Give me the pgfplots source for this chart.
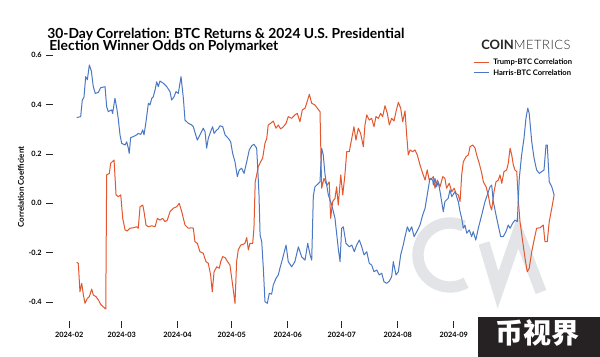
\documentclass[border=0pt]{standalone}
\usepackage{pgfplots}
\pgfplotsset{compat=1.18}
\usepackage{fontspec}
\setmainfont{Lato}
\newfontfamily\latolight{Lato Light}
\newfontfamily\cjk{Noto Sans CJK SC}
\definecolor{trumpred}{HTML}{E4572E}
\definecolor{harrisblue}{HTML}{4A78C2}
\definecolor{wm}{HTML}{E2E4E8}
\definecolor{boxbg}{HTML}{262223}

\pgfplotstableread{
d v
4.1 -0.239
5.0 -0.243
5.9 -0.358
6.9 -0.324
7.8 -0.371
8.7 -0.405
10.0 -0.385
11.1 -0.378
12.4 -0.347
13.3 -0.371
14.8 -0.378
16.1 -0.391
17.4 -0.409
18.8 -0.419
20.2 -0.428
20.7 0.115
22.2 0.121
22.9 0.162
24.8 0.175
25.9 0.034
27.1 0.027
28.5 0.034
29.6 -0.061
30.9 -0.108
32.1 -0.112
33.6 -0.101
35.5 -0.099
37.3 -0.095
38.2 -0.101
39.2 -0.014
40.7 -0.007
41.4 -0.034
42.5 -0.088
43.8 -0.095
45.7 -0.091
47.5 -0.095
48.8 -0.061
50.2 -0.068
51.7 -0.061
53.0 -0.074
54.3 -0.068
55.8 -0.034
57.6 -0.020
59.5 -0.014
60.9 0.0
62.3 -0.034
64.1 -0.088
65.9 -0.101
67.8 -0.099
68.7 -0.101
69.6 -0.155
70.9 -0.162
72.4 -0.196
74.2 -0.202
75.7 -0.236
77.0 -0.243
78.3 -0.29
79.2 -0.358
80.2 -0.277
81.7 -0.257
83.1 -0.263
83.9 -0.236
85.0 -0.216
86.3 -0.220
87.5 -0.234
89.0 -0.25
90.5 -0.331
91.8 -0.405
92.7 -0.236
93.6 -0.189
95.0 -0.169
96.4 -0.166
97.3 -0.162
98.3 -0.139
99.2 -0.189
100.1 -0.162
101.6 -0.162
102.3 -0.101
103.0 0.087
103.8 0.115
104.7 0.148
106.0 0.168
107.1 0.182
108.4 0.243
109.4 0.263
110.2 0.317
111.6 0.324
113.0 0.333
114.5 0.304
115.8 0.317
117.1 0.301
118.6 0.31
120.1 0.324
121.3 0.351
123.2 0.344
125.0 0.358
126.3 0.364
127.8 0.33
129.1 0.378
130.6 0.385
131.5 0.405
133.0 0.441
134.3 0.405
136.1 0.398
137.4 0.385
138.9 0.371
139.8 0.061
141.1 0.101
142.2 0.081
142.9 0.074
144.0 0.087
144.8 -0.061
145.9 0.007
147.2 0.020
148.1 0.067
149.0 -0.007
150.4 0.115
151.5 0.034
152.7 0.115
153.7 0.209
155.1 0.209
156.5 0.263
157.7 0.31
158.8 0.256
160.1 0.304
161.4 0.283
162.9 0.229
163.8 0.317
164.8 0.358
166.2 0.337
167.5 0.344
168.8 0.31
169.9 0.351
171.2 0.344
172.5 0.364
173.6 0.351
174.9 0.395
176.2 0.364
177.3 0.317
178.6 0.344
179.9 0.333
181.0 0.371
182.3 0.409
183.6 0.385
184.7 0.33
186.0 0.374
186.9 0.277
187.8 0.196
188.8 0.216
190.2 0.209
191.5 0.216
192.8 0.196
194.3 0.155
195.8 0.121
197.1 0.094
198.3 0.135
199.4 0.094
200.8 0.101
201.7 0.108
202.6 0.061
203.9 0.094
205.4 0.067
206.9 0.108
208.1 0.101
209.0 0.061
210.5 0.081
211.9 0.047
213.2 0.061
214.3 0.040
215.5 0.034
216.5 0.007
217.4 0.115
218.3 0.168
219.8 0.189
221.1 0.196
222.0 0.229
223.5 0.236
224.8 0.223
225.7 0.196
227.1 0.162
228.5 0.121
229.4 0.087
230.9 0.067
232.1 0.034
233.1 -0.007
234.0 -0.027
235.3 0.047
236.4 0.087
237.7 0.094
238.6 0.115
239.6 0.081
240.8 0.128
242.3 0.135
243.2 0.162
244.2 0.223
245.1 0.196
246.0 0.155
246.9 0.135
247.9 0.128
248.8 0.007
249.7 -0.074
251.2 -0.155
252.5 -0.223
253.7 -0.277
254.8 -0.263
256.2 -0.196
257.5 -0.149
258.9 -0.101
260.8 -0.099
262.6 -0.088
263.5 -0.155
264.8 -0.155
265.9 -0.074
267.3 -0.020
268.6 0.034
}\trump

\pgfplotstableread{
d v
4.1 0.347
6.3 0.351
7.2 0.418
8.1 0.428
9.1 0.513
10.0 0.5
11.1 0.56
12.2 0.536
13.3 0.472
14.4 0.445
16.1 0.449
17.4 0.468
19.8 0.472
20.7 0.391
21.6 0.371
23.5 0.378
24.0 0.364
25.3 0.425
26.3 0.385
27.1 0.344
28.1 0.277
29.0 0.243
30.9 0.236
31.8 0.249
32.7 0.223
33.2 0.202
34.0 0.266
35.5 0.27
37.3 0.277
38.2 0.283
39.6 0.279
40.7 0.297
41.4 0.277
42.5 0.33
43.8 0.405
44.7 0.398
45.7 0.425
46.5 0.431
47.5 0.458
48.4 0.492
49.3 0.472
50.2 0.495
52.1 0.486
54.0 0.472
55.8 0.452
56.7 0.418
58.0 0.431
59.1 0.452
60.4 0.445
61.9 0.513
63.2 0.425
64.1 0.337
65.9 0.324
67.8 0.317
68.7 0.31
70.9 0.256
72.4 0.277
74.2 0.304
75.2 0.29
76.1 0.223
77.0 0.263
78.3 0.29
79.4 0.31
80.2 0.283
81.7 0.297
82.5 0.301
83.5 0.314
85.0 0.31
86.3 0.277
88.1 0.263
89.4 0.249
90.5 0.202
91.8 0.168
93.1 0.108
94.2 0.135
95.5 0.142
96.8 0.121
98.3 0.168
99.7 0.216
101.1 0.233
102.3 0.239
103.8 0.223
104.4 0.142
105.1 0.034
105.7 -0.128
106.6 -0.155
107.5 -0.263
108.4 -0.398
109.7 -0.405
110.8 -0.364
112.1 -0.368
113.0 -0.331
114.5 -0.304
115.8 -0.29
116.7 -0.263
118.2 -0.223
120.1 -0.169
121.3 -0.236
123.2 -0.257
125.0 -0.236
126.9 -0.176
128.7 -0.216
130.6 -0.23
132.1 -0.162
133.4 -0.209
134.3 -0.23
135.2 0.03
136.1 0.067
137.1 0.074
138.9 0.087
139.8 0.223
140.7 0.196
141.7 0.115
143.5 0.034
145.4 -0.007
147.2 -0.061
149.0 -0.182
150.0 -0.236
150.9 -0.101
151.8 -0.095
153.3 -0.162
155.1 -0.176
156.5 -0.169
157.9 -0.196
159.2 -0.169
160.7 -0.149
162.0 -0.176
163.3 -0.209
164.8 -0.196
166.2 -0.243
167.5 -0.25
168.8 -0.277
170.3 -0.27
171.7 -0.29
173.1 -0.283
174.3 -0.317
175.8 -0.324
177.3 -0.315
178.6 -0.297
179.5 -0.236
181.0 -0.29
182.3 -0.277
183.6 -0.209
185.0 -0.169
186.0 -0.135
187.3 -0.095
188.4 -0.115
189.7 -0.095
191.0 -0.135
192.5 -0.115
194.3 -0.088
195.8 -0.047
197.1 -0.020
198.3 0.034
199.8 0.101
201.3 0.094
201.7 0.074
202.6 0.101
203.5 0.067
204.4 0.087
205.4 0.047
207.2 -0.034
208.1 0.007
209.9 0.02
210.9 0.054
211.9 0.027
213.7 0.047
215.5 0.007
216.5 -0.034
217.4 -0.061
218.3 -0.101
219.2 -0.088
220.2 -0.121
221.6 -0.108
222.9 -0.135
223.8 -0.115
225.2 -0.149
226.6 -0.101
228.5 -0.047
230.3 0.007
231.6 0.034
233.1 0.067
234.0 0.074
234.9 0.007
236.8 -0.061
239.0 -0.135
240.4 -0.135
241.9 -0.115
243.2 -0.088
244.2 -0.101
245.6 -0.081
246.9 -0.068
248.2 -0.074
249.3 0.101
250.6 0.196
251.9 0.263
253.0 0.344
254.0 0.385
254.8 0.364
256.2 0.249
257.5 0.182
258.9 0.135
260.4 0.121
261.7 0.128
263.0 0.135
264.1 0.236
264.8 0.236
265.9 0.087
267.3 0.067
268.6 0.034
}\harris

\begin{document}
\begin{tikzpicture}
\begin{scope}[x=0.75pt,y=-0.75pt]
\path[use as bounding box, fill=white] (0,0) rectangle (600,357);
\coordinate (P) at (53,321);
% watermark
\draw[wm, line width=8.5pt] (450,255) ++(-65:32) arc[start angle=-65, end angle=-300, radius=32];
\draw[wm, line width=8.5pt, line join=miter] (484,243) -- (498,290) -- (518,232) -- (541,292);
% title
\node[anchor=base west, inner sep=0pt, font=\bfseries\fontsize{10.4}{12}\selectfont] at (47,38) {30-Day Correlation: BTC Returns \& 2024 U.S. Presidential};
\node[anchor=base west, inner sep=0pt, font=\bfseries\fontsize{10.4}{12}\selectfont] at (49,50.5) {Election Winner Odds on Polymarket};
% logo
\node[anchor=base west, inner sep=0pt, font=\fontsize{9.7}{11}\selectfont, text=black!85] at (481,49.5) {\textbf{COIN}{\latolight\addfontfeatures{LetterSpace=4}METRICS}};
% legend
\draw[trumpred, line width=0.75pt] (474,62.3) -- (489,62.3);
\node[anchor=west, inner sep=0pt, font=\bfseries\fontsize{5.7}{6}\selectfont] at (493,62.3) {Trump-BTC Correlation};
\draw[harrisblue, line width=0.75pt] (474,72.3) -- (489,72.3);
\node[anchor=west, inner sep=0pt, font=\bfseries\fontsize{5.7}{6}\selectfont] at (493,72.3) {Harris-BTC Correlation};
% y label
\node[rotate=90, inner sep=0pt, font=\bfseries\fontsize{6}{7}\selectfont] at (21,187) {Correlation Coefficient};
\end{scope}
\begin{axis}[
  at={(P)}, anchor=south west,
  x=1.35375pt, y=185.25pt,
  xmin=-9.03, xmax=275.2, ymin=-0.4765, ymax=0.6206,
  axis line style={draw=none},
  tick pos=left, tick align=outside,
  major tick length=5pt,
  tick style={black!85, line width=0.6pt},
  xtick={0,29,60,90,121,151,182,213},
  xticklabels={2024-02,2024-03,2024-04,2024-05,2024-06,2024-07,2024-08,2024-09},
  ytick={-0.4,-0.2,0,0.2,0.4,0.6},
  yticklabels={-0.4,-0.2,0.0,0.2,0.4,0.6},
  ticklabel style={font=\bfseries\fontsize{5.5}{6}\selectfont},
]
\addplot[trumpred, line width=0.75pt, line join=round] table[x=d, y=v] {\trump};
\addplot[harrisblue, line width=0.75pt, line join=round] table[x=d, y=v] {\harris};
\end{axis}
\begin{scope}[x=0.75pt,y=-0.75pt]
\fill[boxbg] (478,317) rectangle (600,357);
\node[text=white, inner sep=0pt, font=\cjk\bfseries\fontsize{21}{22}\selectfont] at (537,333) {币视界};
\end{scope}
\end{tikzpicture}
\end{document}
